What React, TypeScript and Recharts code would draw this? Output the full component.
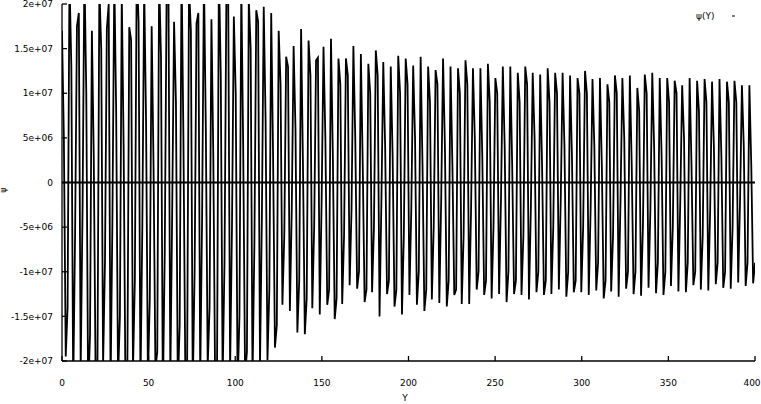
import { LineChart, Line, XAxis, YAxis, ReferenceLine, Legend } from 'recharts';

// per oscillation, in units of 1e6: the top tip, the sample after it,
// the bottom tip and the sample after that
const peaks = [
  17, 23, 17.5, 24, 17, 22, 17.2, 23, 21, 17.4, 24, 22, 17.5, 23, 21, 18, 24, 22, 17.8, 23,
  18.3, 24, 21, 18.6, 22, 20.5, 19.3, 19.7, 19.0, 17.0, 14.1, 15.3, 17.2, 15.9, 13.7, 15.2,
  16.1, 13.9, 13.9, 15.3, 14.4, 13.3, 14.8, 13.5, 13.0, 14.2, 13.9, 13.1, 14.1, 13.0, 12.6,
  13.9, 13.0, 12.8, 13.7, 12.8, 12.8, 13.3, 11.7, 13.0, 13.0, 12.3, 13.0, 12.3, 12.1, 12.8,
  12.3, 12.3, 12.0, 11.7, 12.5, 11.6, 11.7, 11.0, 12.0, 11.7, 12.0, 10.6, 12.1, 12.3, 11.7,
  11.7, 11.4, 10.9, 11.7, 11.4, 11.6, 11.3, 11.6, 11.3, 11.4, 10.9, 10.9,
];

const afterPeaks = [
  5, 13, 19, 10, 3, 15, 20, 8, 4, 16, 18, 7, 2, 14, 21, 9, 5, 17, 19, 6, 3, 12, 20, 10, 4, 15, 18,
  7, 3, 11, 13, 6, 2, 12, 14, 5, 3, 11, 12, 5, 2, 10, 12, 4, 3,
  10, 11, 5, 2, 9, 11, 4, 2, 10, 11, 5, 3, 9, 10, 4, 2,
  9, 11, 5, 2, 9, 10, 4, 3, 10, 10, 4, 2, 9, 10, 5, 2, 8, 10, 4, 3, 9, 10, 5, 2, 8, 9, 4, 3, 9, 9, 4, 2,
];

const troughs = [
  -19.5, -23, -21, -24, -22, -20.5, -23, -22, -24, -21, -23, -22, -20.8, -24, -22, -23, -21,
  -23, -22, -20.6, -23, -22, -21, -23, -21.5, -22, -20.5, -19.9, -18.5, -13.7, -14.4, -16.8,
  -17.0, -14.1, -14.8, -13.7, -15.3, -13.6, -11.5, -11.9, -13.4, -12.3, -15.0, -12.5, -13.9,
  -14.8, -12.6, -13.7, -14.4, -13.1, -13.5, -13.9, -12.6, -13.6, -13.6, -12.0, -12.6, -13.0,
  -12.5, -13.4, -12.5, -12.6, -13.1, -12.3, -12.6, -12.5, -12.0, -12.8, -12.3, -12.3, -12.6,
  -12.1, -13.0, -12.2, -12.8, -11.9, -12.5, -12.7, -11.8, -12.4, -12.6, -11.6, -12.2, -12.3,
  -11.5, -12.0, -12.1, -11.4, -11.8, -11.9, -11.2, -11.6, -11.3,
];

const afterTroughs = [
  -14, -6, -3, -17, -20, -9, -4, -15, -21, -11, -5, -13, -19, -8, -3, -16, -20, -10, -4, -14,
  -21, -9, -5, -15, -19, -7, -4,
  -12, -16, -6, -3, -11, -13, -5, -2, -12, -13, -6, -3, -10, -12, -5, -2, -11, -12,
  -6, -3, -10, -12, -5, -2, -11, -12, -6, -3, -10, -11, -5, -2, -10, -11,
  -6, -3, -10, -11, -5, -2, -10, -11, -5, -3, -9, -11, -6, -2, -10, -10, -5, -3, -9, -10, -5,
  -2, -9, -10, -6, -3, -9, -10, -5, -2, -9, -9,
];

const xTicks = [0, 50, 100, 150, 200, 250, 300, 350, 400];
const yTicks = [-20, -15, -10, -5, 0, 5, 10, 15, 20];
const yTickLabels = ['-2e+07', '-1.5e+07', '-1e+07', '-5e+06', '0', '5e+06', '1e+07', '1.5e+07', '2e+07'];

const step = 400 / (peaks.length * 4 - 1);

const data = peaks.flatMap((p, i) => [
  { x: 4 * i * step, v: p },
  { x: (4 * i + 1) * step, v: afterPeaks[i] },
  { x: (4 * i + 2) * step, v: troughs[i] },
  { x: (4 * i + 3) * step, v: afterTroughs[i] },
]);

const XTick = ({ x, y, payload }: any) => (
  <text
    x={payload.value === 400 ? x - 3 : x}
    y={y}
    dy="0.71em"
    textAnchor="middle"
    fontSize={9}
    fill="#000"
  >
    {payload.value}
  </text>
);

export default function App() {
  return (
    <div style={{ position: 'absolute', left: 0, top: 0, background: '#fff' }}>
      <LineChart
        width={761}
        height={404}
        data={data}
        margin={{ top: 4, right: 6, bottom: 0, left: 0 }}
        style={{ fontFamily: 'DejaVu Sans' }}
      >
        <XAxis
          xAxisId="b"
          dataKey="x"
          type="number"
          domain={[0, 400]}
          allowDataOverflow
          ticks={xTicks}
          interval={0}
          height={33}
          tickSize={-5}
          tickMargin={14}
          stroke="#000"
          strokeWidth={1.3}
          tick={(props: any) => <XTick {...props} y={380} />}
          label={() => (
            <text x={405} y={401} textAnchor="middle" fontSize={9} fill="#000">
              Y
            </text>
          )}
        />
        <XAxis
          xAxisId="t"
          orientation="top"
          type="number"
          domain={[0, 400]}
          allowDataOverflow
          ticks={xTicks}
          interval={0}
          height={0}
          tickSize={-5}
          stroke="#000"
          strokeWidth={1.3}
          tickFormatter={() => ''}
        />
        <YAxis
          yAxisId="l"
          type="number"
          domain={[-20, 20]}
          allowDataOverflow
          ticks={yTicks}
          interval={0}
          width={62}
          tickSize={-5}
          tickMargin={14}
          stroke="#000"
          strokeWidth={1.3}
          tick={{ fontSize: 9, fill: '#000' }}
          tickFormatter={(v) => yTickLabels[yTicks.indexOf(Number(v))]}
          label={() => (
            <text x={6} y={190} textAnchor="middle" fontSize={8} fill="#000" transform="rotate(-90 6 190)">
              ψ
            </text>
          )}
        />
        <YAxis
          yAxisId="r"
          orientation="right"
          type="number"
          domain={[-20, 20]}
          allowDataOverflow
          ticks={yTicks}
          interval={0}
          width={0}
          tickSize={-5}
          stroke="#000"
          strokeWidth={1.3}
          tickFormatter={() => ''}
        />
        <ReferenceLine xAxisId="b" yAxisId="l" y={0} stroke="#000" strokeWidth={2} />
        <Legend
          content={() => (
            <div style={{ display: 'flex', alignItems: 'center', fontSize: 9, fontFamily: 'DejaVu Sans', color: '#000' }}>
              <span>ψ(Y)</span>
              <svg width={24} height={6} style={{ marginLeft: 4 }}>
                <line x1={14} y1={3} x2={17} y2={3} stroke="#000" />
              </svg>
            </div>
          )}
          wrapperStyle={{ position: 'absolute', top: 11, left: 696, width: 60 }}
        />
        <Line
          xAxisId="b"
          yAxisId="l"
          dataKey="v"
          type="linear"
          stroke="#000"
          strokeWidth={1.8}
          dot={false}
          isAnimationActive={false}
        />
      </LineChart>
    </div>
  );
}
